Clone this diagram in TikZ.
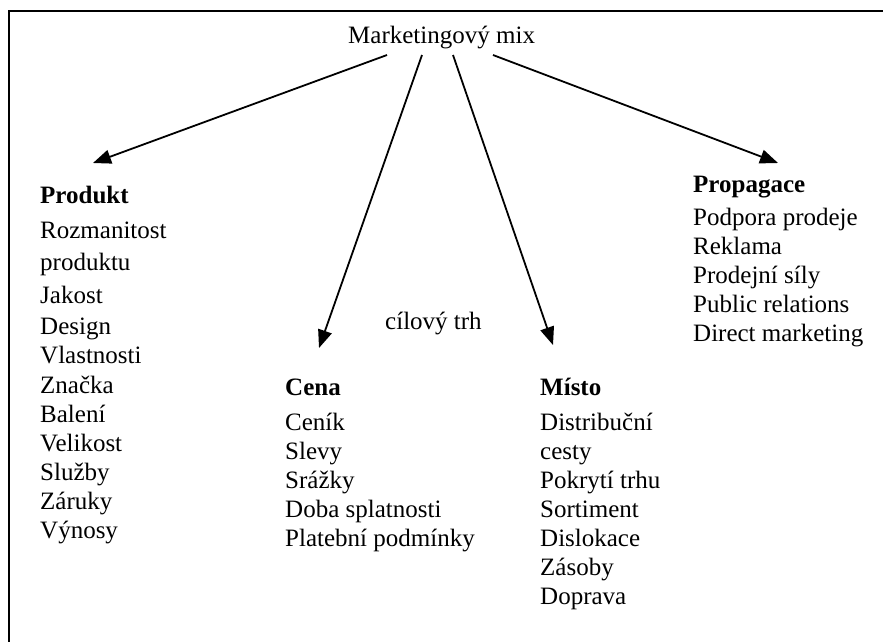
\documentclass[tikz,border=0pt]{standalone}
\usepackage{fontspec}
\setmainfont{Liberation Serif}
\usetikzlibrary{arrows.meta}

\newcommand{\firstline}{\rule{0pt}{20pt}}

\tikzset{
  every node/.style={font=\fontsize{25}{29}\selectfont, inner sep=0pt, anchor=base west},
  head/.style={font=\fontsize{25}{29}\selectfont\bfseries},
  items/.style={align=left, anchor=north west},
  arr/.style={-{Triangle[length=18pt,width=14pt]}, line width=1.8pt}
}

\begin{document}
\begin{tikzpicture}[x=1pt,y=1pt]
\useasboundingbox (0,0) rectangle (883,-641);
\draw [line width=1.8pt] (9,-660) -- (9,-11) -- (900,-11);

\node (mix) at (348,-43) {Marketingový mix};

\node [head] (produkt) at (40,-203) {Produkt};
\node [items] (produktlist) at (40,-218) {\firstline Rozmanitost\\[3pt] produktu\\[4pt] Jakost\\[2pt] Design\\ Vlastnosti\\[1pt] Značka\\ Balení\\ Velikost\\ Služby\\ Záruky\\ Výnosy};

\node [head] (cena) at (285,-395) {Cena};
\node [items] (cenalist) at (285,-410) {\firstline Ceník\\ Slevy\\ Srážky\\ Doba splatnosti\\ Platební podmínky};

\node (trh) at (385,-329) {cílový trh};

\node [head] (misto) at (540,-395) {Místo};
\node [items] (mistolist) at (540,-410) {\firstline Distribuční\\ cesty\\ Pokrytí trhu\\ Sortiment\\ Dislokace\\ Zásoby\\ Doprava};

\node [head] (propagace) at (693,-192) {Propagace};
\node [items] (propagacelist) at (693,-205) {\firstline Podpora prodeje\\ Reklama\\ Prodejní síly\\ Public relations\\ Direct marketing};

\draw [arr] ([shift={(39,-12)}]mix.base west) -- ([shift={(53,40)}]produkt.base west);
\draw [arr] ([shift={(74,-12)}]mix.base west) -- ([shift={(34,47)}]cena.base west);
\draw [arr] ([shift={(105,-12)}]mix.base west) -- ([shift={(13,50)}]misto.base west);
\draw [arr] ([shift={(145,-12)}]mix.base west) -- ([shift={(85,29)}]propagace.base west);
\end{tikzpicture}
\end{document}
